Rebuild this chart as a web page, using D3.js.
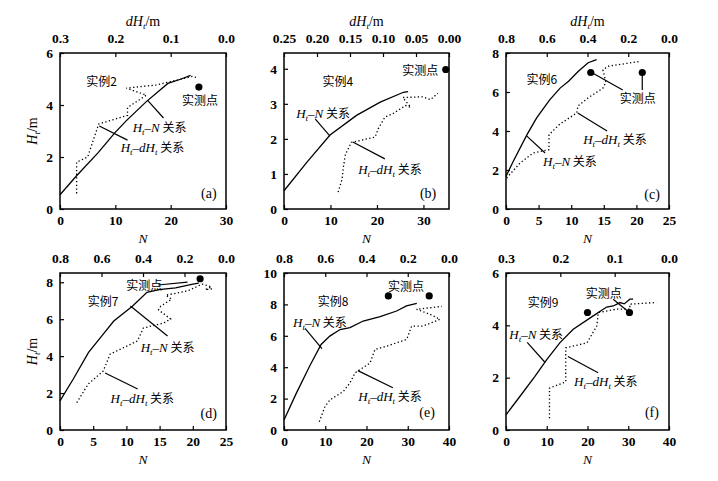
<!DOCTYPE html>
<html>
<head>
<meta charset="utf-8">
<script src="https://cdn.jsdelivr.net/npm/d3@7"></script>
<style>
  body { margin: 0; background: #fff; }
  svg text { fill: #000; }
  .tick text { font-family: "Liberation Serif", "DejaVu Serif", serif; font-size: 13.5px; font-weight: bold; }
  .cn { font-family: "Noto Sans CJK SC", sans-serif; font-size: 12px; }
  .serif { font-family: "Liberation Serif", "DejaVu Serif", serif; }
</style>
</head>
<body>
<svg id="chart" width="718" height="481"></svg>
<script>
// H_t-N relation, [N, H_t]
const htN_a = [[0,0.55],[3,1.28],[6.9,2.17],[9.9,2.93],[12,3.4],[15.6,4.13],[19.5,4.83],[21.8,4.99],[23.6,5.14]];
const htN_b = [[0,0.52],[4.9,1.33],[9.9,2.11],[15.6,2.67],[20.7,3.05],[25.7,3.33],[26.7,3.35]];
const htN_c = [[0,1.67],[1.1,2.44],[3.2,3.8],[4.7,4.67],[6.7,5.6],[8.3,6.2],[9.6,6.55],[11.1,7.06],[12.6,7.5],[13.9,7.66]];
const htN_d = [[0,1.58],[2,2.76],[4.3,4.2],[6.3,5.1],[8.1,5.9],[10.9,6.7],[13.1,7.45],[14.9,7.6],[17.4,7.7],[20,7.9],[20.9,7.95]];
const htN_e = [[0,0.64],[3,2.35],[6.2,4.06],[9,5.45],[11.1,5.98],[13.6,6.4],[16,6.52],[19.2,6.94],[23.3,7.22],[27.3,7.58],[29.7,7.9],[32.2,8.07]];
const htN_f = [[0,0.58],[3.4,1.28],[7.1,2.05],[10,2.69],[13.2,3.33],[16.5,3.85],[21.4,4.36],[24.7,4.7],[26.3,4.74],[28,4.87],[29,4.82],[30.4,5.0],[31.2,5.0]];

// H_t-dH_t relation, [dH_t, H_t]
const htDH_a = [[0.27,0.6],[0.27,1.8],[0.25,2.0],[0.23,3.27],[0.178,3.6],[0.178,3.9],[0.144,4.38],[0.18,4.65],[0.126,4.77],[0.061,5.1],[0.052,5.05]];
const htDH_b = [[0.168,0.48],[0.162,0.85],[0.16,1.2],[0.157,1.55],[0.148,1.9],[0.112,2.05],[0.107,2.3],[0.097,2.62],[0.085,2.72],[0.066,2.95],[0.058,2.9],[0.07,3.18],[0.04,3.2],[0.028,3.12],[0.017,3.3]];
const htDH_c = [[0.797,1.59],[0.731,2.36],[0.667,2.87],[0.589,3.04],[0.589,3.81],[0.535,4.36],[0.453,4.92],[0.447,5.28],[0.398,5.69],[0.324,6.2],[0.31,6.5],[0.324,7.13],[0.3,7.32],[0.142,7.57]];
const htDH_d = [[0.719,1.48],[0.664,2.49],[0.592,3.19],[0.558,4.11],[0.427,4.82],[0.398,5.52],[0.301,5.79],[0.267,6.01],[0.325,6.5],[0.315,6.7],[0.262,7.08],[0.29,7.3],[0.184,7.53],[0.115,7.9],[0.07,7.75],[0.1,7.6],[0.06,7.65]];
const htDH_e = [[0.629,0.53],[0.601,1.5],[0.577,1.92],[0.512,2.46],[0.48,3.0],[0.456,3.63],[0.431,3.85],[0.383,4.27],[0.359,5.13],[0.302,5.34],[0.205,5.77],[0.181,6.62],[0.125,6.62],[0.044,7.05],[0.092,7.37],[0.157,7.69],[0.035,7.87]];
const htDH_f = [[0.22,0.45],[0.22,1.6],[0.195,1.8],[0.19,1.84],[0.19,3.14],[0.151,3.33],[0.133,3.97],[0.13,4.49],[0.096,4.62],[0.072,4.62],[0.072,4.81],[0.023,4.87]];

// measured points, [N, H_t]
const meas_a = [[25.1,4.69]];
const meas_b = [[34.8,3.98]];
const meas_c = [[13.0,7.0],[20.9,7.0]];
const meas_d = [[21.1,8.19]];
const meas_e = [[25.3,8.54],[35.2,8.54]];
const meas_f = [[20.0,4.49],[30.3,4.49]];

// tick labels
const nTicks_a = [0,10,20,30], dhTicks_a = [0.3,0.2,0.1,0.0], hTicks_a = [0,2,4,6];
const nTicks_b = [0,10,20,30], dhTicks_b = [0.25,0.20,0.15,0.10,0.05,0.00], hTicks_b = [0,1,2,3,4];
const nTicks_c = [0,5,10,15,20,25], dhTicks_c = [0.8,0.6,0.4,0.2,0.0], hTicks_c = [0,2,4,6,8];
const nTicks_d = [0,5,10,15,20,25], dhTicks_d = [0.8,0.6,0.4,0.2,0.0], hTicks_d = [0,2,4,6,8];
const nTicks_e = [0,10,20,30,40], dhTicks_e = [0.8,0.6,0.4,0.2,0.0], hTicks_e = [0,2,4,6,8,10];
const nTicks_f = [0,10,20,30,40], dhTicks_f = [0.3,0.2,0.1,0.0], hTicks_f = [0,2,4,6];

// annotation texts placed in [N, H_t]
const labels_a = [["实例2",7.5,4.92],["实测点",25.3,4.19],["HN",18,3.15],["HdH",16.7,2.35],["(a)",26.9,0.6]];
const labels_b = [["实例4",11.6,3.65],["实测点",29.3,3.96],["HN",8.4,2.71],["HdH",22.8,1.14],["(b)",31,0.43]];
const labels_c = [["实例6",5.5,6.62],["实测点",20.2,5.69],["HdH",16.7,3.54],["HN",9.8,2.46],["(c)",22.4,0.72]];
const labels_d = [["实例7",6.5,6.93],["实测点",12.7,7.85],["HN",16.2,4.44],["HdH",12.4,1.73],["(d)",22.4,0.87]];
const labels_e = [["实例8",11.9,8.2],["实测点",29.6,9.17],["HN",8.7,6.86],["HdH",25.7,2.12],["(e)",34.7,1.09]];
const labels_f = [["实例9",9.1,4.88],["实测点",24,5.23],["HN",7.4,3.65],["HdH",24.5,1.85],["(f)",35.8,0.65]];

// leader lines [N1, H1, N2, H2]
const leaders_a = [[15.8,4.19,18.7,3.5],[7.1,3.19,12.2,2.65]];
const leaders_b = [[6.7,2.57,9.9,2.08],[14.8,1.91,21.7,1.43]];
const leaders_c = [[13,7.03,17.9,6.1],[20.9,7.03,20.9,6.1],[11,4.92,15.5,4.0],[3.2,3.74,6.0,2.87]];
const leaders_d = [[14.8,7.85,19.2,8.01],[10.6,6.71,16.2,5.09],[6.8,3.09,11.7,2.22]];
const leaders_e = [[5.1,6.47,9.2,5.19],[17.9,3.78,26.4,2.69]];
const leaders_f = [[26.3,5.0,29.9,4.54],[5.2,3.35,9.6,2.58],[15.2,2.81,22.6,2.19]];

const panels = [
  { left: 60,  top: 53,  w: 166, h: 156, nMax: 30,   hMax: 6,    dhMax: 0.3,  dhFmt: ".1f", nT: nTicks_a, dT: dhTicks_a, hT: hTicks_a, sol: htN_a, dot: htDH_a, m: meas_a, lab: labels_a, ld: leaders_a, yTitle: true,  topTitle: true },
  { left: 284, top: 53,  w: 165, h: 156, nMax: 35.5, hMax: 4.45, dhMax: 0.25, dhFmt: ".2f", nT: nTicks_b, dT: dhTicks_b, hT: hTicks_b, sol: htN_b, dot: htDH_b, m: meas_b, lab: labels_b, ld: leaders_b, yTitle: false, topTitle: true },
  { left: 506, top: 53,  w: 163, h: 156, nMax: 25,   hMax: 8,    dhMax: 0.8,  dhFmt: ".1f", nT: nTicks_c, dT: dhTicks_c, hT: hTicks_c, sol: htN_c, dot: htDH_c, m: meas_c, lab: labels_c, ld: leaders_c, yTitle: false, topTitle: true },
  { left: 60,  top: 273, w: 166, h: 157, nMax: 25,   hMax: 8.5,  dhMax: 0.8,  dhFmt: ".1f", nT: nTicks_d, dT: dhTicks_d, hT: hTicks_d, sol: htN_d, dot: htDH_d, m: meas_d, lab: labels_d, ld: leaders_d, yTitle: true,  topTitle: false },
  { left: 284, top: 273, w: 165, h: 157, nMax: 40,   hMax: 10,   dhMax: 0.8,  dhFmt: ".1f", nT: nTicks_e, dT: dhTicks_e, hT: hTicks_e, sol: htN_e, dot: htDH_e, m: meas_e, lab: labels_e, ld: leaders_e, yTitle: false, topTitle: false },
  { left: 506, top: 273, w: 163, h: 157, nMax: 40,   hMax: 6,    dhMax: 0.3,  dhFmt: ".1f", nT: nTicks_f, dT: dhTicks_f, hT: hTicks_f, sol: htN_f, dot: htDH_f, m: meas_f, lab: labels_f, ld: leaders_f, yTitle: false, topTitle: false }
];

const svg = d3.select("#chart");

function subLabel(text, parts) {
  // parts: [content, italic, sub, cn]
  parts.forEach(p => {
    const t = text.append("tspan").text(p[0]);
    if (p[1]) t.attr("font-style", "italic");
    if (p[3]) t.attr("class", "cn");
    if (p[2] === 1) t.attr("font-size", 9).attr("dy", 3);
    if (p[2] === -1) t.attr("dy", -3);
  });
}

panels.forEach(p => {
  const g = svg.append("g").attr("transform", `translate(${p.left},${p.top})`);
  const x = d3.scaleLinear().domain([0, p.nMax]).range([0, p.w]);
  const xTop = d3.scaleLinear().domain([p.dhMax, 0]).range([0, p.w]);
  const y = d3.scaleLinear().domain([0, p.hMax]).range([p.h, 0]);

  g.append("g").attr("transform", `translate(0,${p.h})`)
    .call(d3.axisBottom(x).tickValues(p.nT).tickFormat(d3.format("d")).tickSize(-4).tickPadding(6))
    .call(a => a.select(".domain").remove());
  g.append("g")
    .call(d3.axisTop(xTop).tickValues(p.dT).tickFormat(d3.format(p.dhFmt)).tickSize(-4).tickPadding(10))
    .call(a => a.select(".domain").remove());
  g.append("g")
    .call(d3.axisLeft(y).tickValues(p.hT).tickFormat(d3.format("d")).tickSize(-4).tickPadding(7))
    .call(a => a.select(".domain").remove());
  g.selectAll(".tick line").attr("stroke", "#000").attr("stroke-width", 1.2);

  g.append("rect").attr("width", p.w).attr("height", p.h)
    .attr("fill", "none").attr("stroke", "#000").attr("stroke-width", 1.5);

  const solidLine = d3.line().x(d => x(d[0])).y(d => y(d[1]));
  const dotLine = d3.line().x(d => xTop(d[0])).y(d => y(d[1]));

  g.append("path").datum(p.sol).attr("d", solidLine)
    .attr("fill", "none").attr("stroke", "#000").attr("stroke-width", 1.3);
  g.append("path").datum(p.dot).attr("d", dotLine)
    .attr("fill", "none").attr("stroke", "#000").attr("stroke-width", 1.3)
    .attr("stroke-dasharray", "1.3,2.4");

  g.selectAll(".leader").data(p.ld).enter().append("line")
    .attr("x1", d => x(d[0])).attr("y1", d => y(d[1]))
    .attr("x2", d => x(d[2])).attr("y2", d => y(d[3]))
    .attr("stroke", "#000").attr("stroke-width", 1.2);

  g.selectAll(".meas").data(p.m).enter().append("circle")
    .attr("cx", d => x(d[0])).attr("cy", d => y(d[1])).attr("r", 3.6).attr("fill", "#000");

  p.lab.forEach(l => {
    const t = g.append("text").attr("x", x(l[1])).attr("y", y(l[2]) + 4.5)
      .attr("text-anchor", "middle").attr("class", "serif").attr("font-size", 13);
    if (l[0] === "HN") {
      subLabel(t, [["H",1,0],["t",1,1],["–",0,-1],["N",1,0],[" 关系",0,0,1]]);
    } else if (l[0] === "HdH") {
      subLabel(t, [["H",1,0],["t",1,1],["–",0,-1],["dH",1,0],["t",1,1],[" 关系",0,-1,1]]);
    } else if (l[0].startsWith("(")) {
      t.attr("font-size", 14).attr("font-family", "Liberation Sans, Arial, sans-serif").text(l[0]);
    } else {
      t.attr("class", "cn").attr("font-size", 12).text(l[0]);
    }
  });

  // axis titles
  g.append("text").attr("x", p.w / 2).attr("y", p.h + 34)
    .attr("text-anchor", "middle").attr("class", "serif").attr("font-size", 13.5)
    .attr("font-style", "italic").text("N");
  if (p.topTitle) {
    const tt = g.append("text").attr("x", p.w / 2).attr("y", -27)
      .attr("text-anchor", "middle").attr("class", "serif").attr("font-size", 14);
    subLabel(tt, [["dH",1,0],["t",1,1],["/m",0,-1]]);
  }
  if (p.yTitle) {
    const yt = g.append("text")
      .attr("transform", `translate(-23,${p.h / 2}) rotate(-90)`)
      .attr("text-anchor", "middle").attr("class", "serif").attr("font-size", 14);
    subLabel(yt, [["H",1,0],["t",1,1],["/m",0,-1]]);
  }
});
</script>
</body>
</html>
